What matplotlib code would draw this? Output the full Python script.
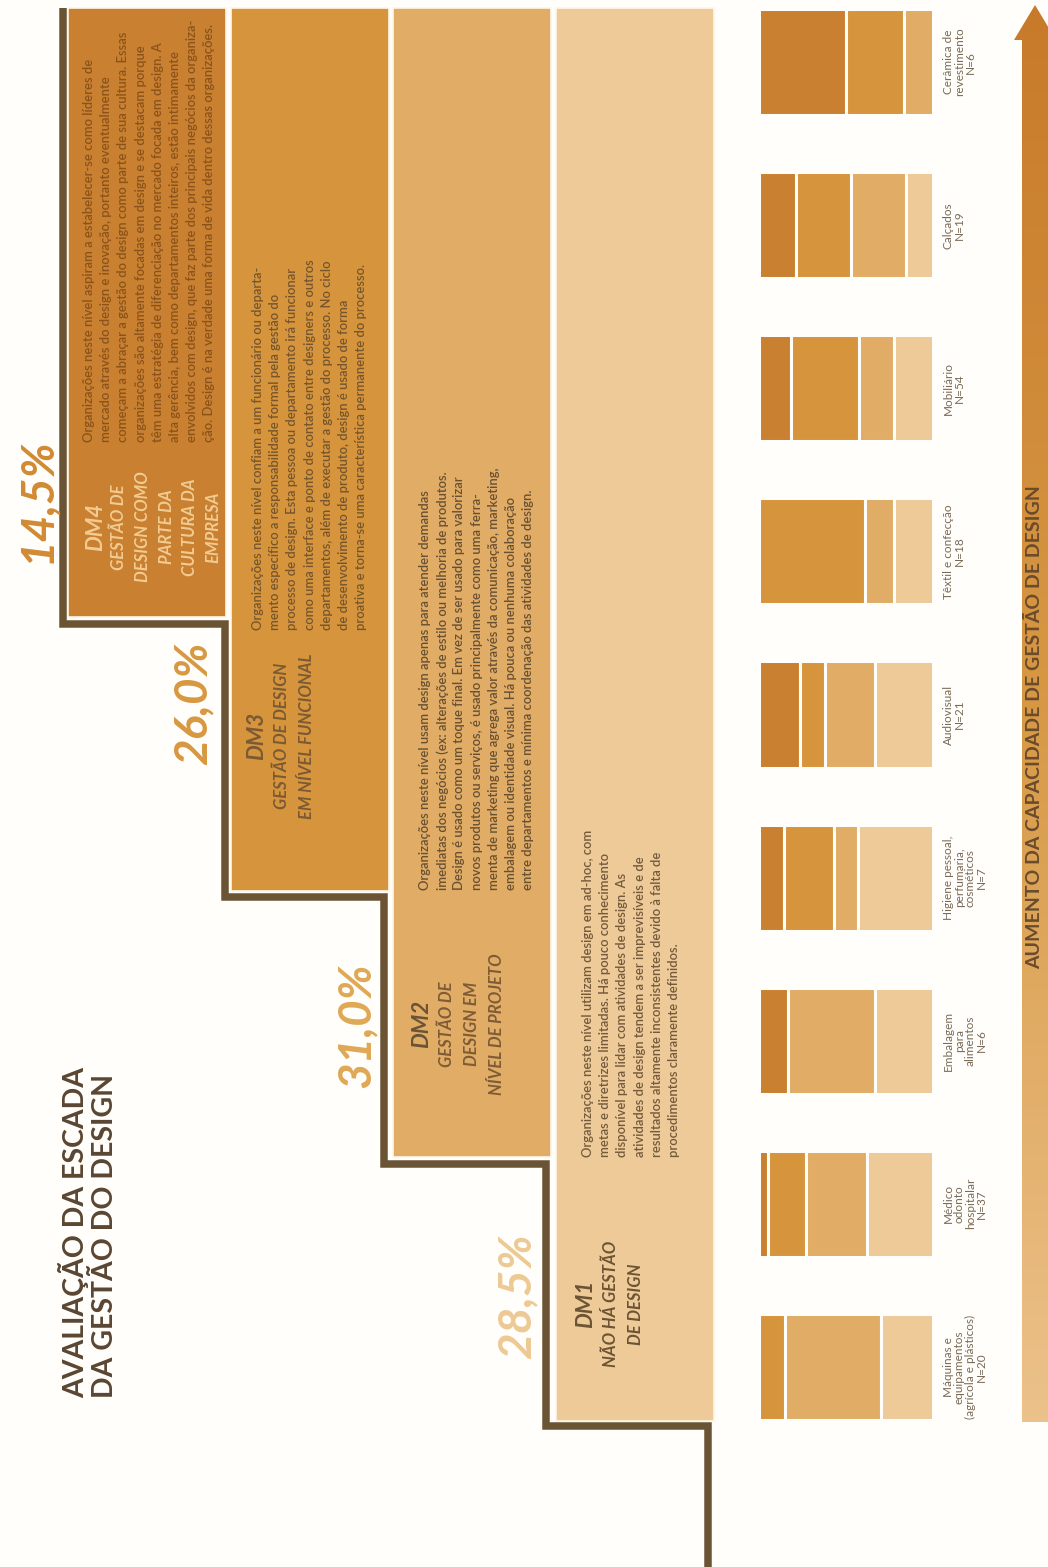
import matplotlib.pyplot as plt
import numpy as np
from matplotlib.patches import Polygon
from matplotlib.colors import LinearSegmentedColormap

plt.rcParams['font.family'] = ['Lato', 'DejaVu Sans']

W, H = 1048, 1567
bg = '#FFFEFB'
brown = '#6B5434'

# níveis da escada (DM1 -> DM4)
levels = ['DM1', 'DM2', 'DM3', 'DM4']
level_share = ['28,5%', '31,0%', '26,0%', '14,5%']
level_colors = ['#EDCA97', '#E1AC65', '#D6953C', '#C98030']
share_colors = ['#EDC994', '#DFA855', '#D79840', '#D28A33']

level_titles = [
    ['NÃO HÁ GESTÃO', 'DE DESIGN'],
    ['GESTÃO DE', 'DESIGN EM', 'NÍVEL DE PROJETO'],
    ['GESTÃO DE DESIGN', 'EM NÍVEL FUNCIONAL'],
    ['GESTÃO DE', 'DESIGN COMO', 'PARTE DA', 'CULTURA DA', 'EMPRESA'],
]

level_texts = [
    ['Organizações neste nível utilizam design em ad-hoc, com',
     'metas e diretrizes limitadas. Há pouco conhecimento',
     'disponível para lidar com atividades de design. As',
     'atividades de design tendem a ser imprevisíveis e de',
     'resultados altamente inconsistentes devido à falta de',
     'procedimentos claramente definidos.'],
    ['Organizações neste nível usam design apenas para atender demandas',
     'imediatas dos negócios (ex: alterações de estilo ou melhoria de produtos.',
     'Design é usado como um toque final. Em vez de ser usado para valorizar',
     'novos produtos ou serviços, é usado principalmente como uma ferra-',
     'menta de marketing que agrega valor através da comunicação, marketing,',
     'embalagem ou identidade visual. Há pouca ou nenhuma colaboração',
     'entre departamentos e mínima coordenação das atividades de design.'],
    ['Organizações neste nível confiam a um funcionário ou departa-',
     'mento específico a responsabilidade formal pela gestão do',
     'processo de design. Esta pessoa ou departamento irá funcionar',
     'como uma interface e ponto de contato entre designers e outros',
     'departamentos, além de executar a gestão do processo. No ciclo',
     'de desenvolvimento de produto, design é usado de forma',
     'proativa e torna-se uma característica permanente do processo.'],
    ['Organizações neste nível aspiram a estabelecer-se como líderes de',
     'mercado através do design e inovação, portanto eventualmente',
     'começam a abraçar a gestão do design como parte de sua cultura. Essas',
     'organizações são altamente focadas em design e se destacam porque',
     'têm uma estratégia de diferenciação no mercado focada em design. A',
     'alta gerência, bem como departamentos inteiros, estão intimamente',
     'envolvidos com design, que faz parte dos principais negócios da organiza-',
     'ção. Design é na verdade uma forma de vida dentro dessas organizações.'],
]

# setores e número de empresas por nível
sectors = ['Cerâmica de\nrevestimento', 'Calçados', 'Mobiliário', 'Têxtil e confecção',
           'Audiovisual', 'Higiene pessoal,\nperfumaria,\ncosméticos',
           'Embalagem\npara\nalimentos', 'Médico\nodonto\nhospitalar',
           'Máquinas e\nequipamentos\n(agrícola e plásticos)']
n_total = [6, 19, 54, 18, 21, 7, 6, 37, 20]
dm4 = [3, 4, 10, 0, 5, 1, 1, 2, 0]
dm3 = [2, 6, 21, 11, 3, 2, 0, 8, 3]
dm2 = [1, 6, 11, 3, 6, 1, 3, 13, 11]
dm1 = [0, 3, 12, 4, 7, 3, 2, 14, 6]

fig = plt.figure(figsize=(W / 100, H / 100), dpi=100, facecolor=bg)
ax = fig.add_axes([0, 0, 1, 1])
ax.set_facecolor(bg)

# degraus
step_left = [555.5, 393, 230.5, 68]
step_bottom = [1421, 1157, 891, 617]
step_w = 158
top = 8
for i in range(4):
    ax.bar(step_left[i] + step_w / 2, step_bottom[i] - top, bottom=top, width=step_w,
           color=level_colors[i], edgecolor='#FFF6E8', linewidth=1.2, zorder=1)

stair_x = [63, 63, 225, 225, 384, 384, 546, 546, 708, 708]
stair_y = [8, 624, 624, 897, 897, 1164, 1164, 1426, 1426, 1567]
ax.plot(stair_x, stair_y, color=brown, lw=5.4, solid_joinstyle='miter',
        solid_capstyle='butt', zorder=3)

# textos de cada nível
desc_x0 = [588, 425, 258, 89]
desc_y0 = [1157, 890, 630, 442]
desc_colors = ['#735A3D', '#675033', '#76552D', '#8A531B']
for i in range(4):
    for j, line in enumerate(level_texts[i]):
        ax.text(desc_x0[i] + j * 17.2, desc_y0[i], line, rotation=90,
                rotation_mode='anchor', ha='left', va='center',
                fontsize=9.4, fontweight=600, color=desc_colors[i], zorder=4)

title_x0 = [586, 422, 257, 96]
title_dx = [25, 25, 25, 23.5]
title_yc = [1304, 1024, 736, 527]
dm_colors = [brown, brown, '#7B5A33', '#F2CB92']
sub_colors = [brown, '#7E5C35', '#7B5A33', '#F2CB92']
for i in range(4):
    ax.text(title_x0[i], title_yc[i], levels[i], rotation=90, rotation_mode='anchor',
            ha='center', va='center', fontsize=16, fontweight='bold',
            fontstyle='italic', color=dm_colors[i], zorder=4)
    for j, line in enumerate(level_titles[i]):
        ax.text(title_x0[i] + title_dx[i] * (j + 1), title_yc[i], line, rotation=90,
                rotation_mode='anchor', ha='center', va='center', fontsize=12,
                fontweight='bold', fontstyle='italic', color=sub_colors[i], zorder=4)

share_x = [517, 357, 193, 37]
share_yc = [1296, 1025, 703, 500]
for i in range(4):
    ax.text(share_x[i], share_yc[i], level_share[i], rotation=90, rotation_mode='anchor',
            ha='center', va='center', fontsize=33, fontweight='bold',
            fontstyle='italic', color=share_colors[i], zorder=4)

ax.text(74, 1398, 'AVALIAÇÃO DA ESCADA', rotation=90, rotation_mode='anchor',
        ha='left', va='center', fontsize=20.5, fontweight='bold', color='#5A4632')
ax.text(105, 1398, 'DA GESTÃO DO DESIGN', rotation=90, rotation_mode='anchor',
        ha='left', va='center', fontsize=20.5, fontweight='bold', color='#5A4632')

# seta com degradê
grad = np.linspace(0, 1, 256).reshape(-1, 1)
cmap = LinearSegmentedColormap.from_list('seta', ['#C77A2A', '#D79945', '#ECC28B'])
im = ax.imshow(grad, extent=[1010, 1060, 1422, 4], cmap=cmap, aspect='auto', zorder=2)
arrow = Polygon([(1022, 1422), (1022, 40), (1014, 40), (1035, 5), (1056, 40),
                 (1048, 40), (1048, 1422)], closed=True, facecolor='none', edgecolor='none')
ax.add_patch(arrow)
im.set_clip_path(arrow)
ax.text(1035, 727, 'AUMENTO DA CAPACIDADE DE GESTÃO DE DESIGN', rotation=90,
        rotation_mode='anchor', ha='center', va='center', fontsize=14,
        fontweight='bold', color='#6A4B2C', zorder=4)

ax.set_xlim(0, W)
ax.set_ylim(H, 0)
ax.axis('off')

# barras empilhadas por setor
bar_h = 0.651
bax = fig.add_axes([759 / W, (H - 1420) / H, 174 / W, 1411 / H])
bax.set_xlim(0, 1)
bax.set_ylim(8 + bar_h / 2, -bar_h / 2)
bax.axis('off')
left = np.zeros(len(sectors))
for counts, c in zip([dm4, dm3, dm2, dm1], level_colors[::-1]):
    share = np.array(counts) / np.array(n_total)
    idx = np.nonzero(share)[0]
    bax.barh(idx, share[idx], left=left[idx], height=bar_h, color=c,
             edgecolor=bg, linewidth=2.2)
    left += share

for i, (name, n) in enumerate(zip(sectors, n_total)):
    bax.text(1.057, i, f'{name}\nN={n}', transform=bax.get_yaxis_transform(),
             rotation=90, rotation_mode='anchor', ha='center', va='top',
             multialignment='center', fontsize=8.5, color='#786956', linespacing=1.0)

fig.savefig('out.png', dpi=100, facecolor=bg)
